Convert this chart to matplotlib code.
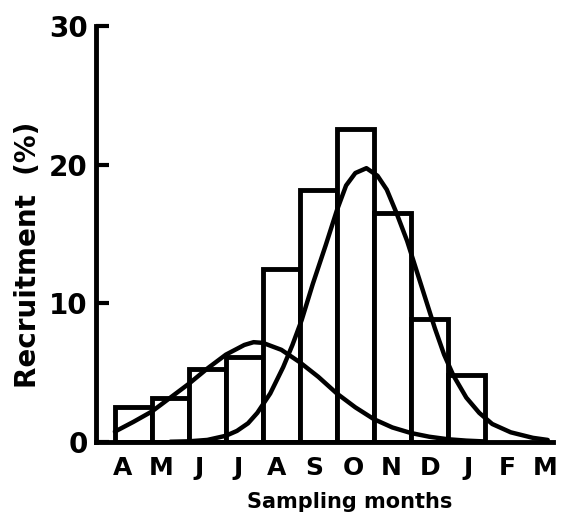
import matplotlib

matplotlib.use("Agg")

import matplotlib.pyplot as plt
import numpy as np

# monthly recruitment (%) per sampling month, April .. January
month_labels = ["A", "M", "J", "J", "A", "S", "O", "N", "D", "J", "F", "M"]
recruitment = [2.5, 3.2, 5.3, 6.1, 12.5, 18.2, 22.6, 16.5, 8.9, 4.8]

# first (small) cohort curve
cohort1_x = [0.0, 0.5, 1.0, 1.5, 2.0, 2.5, 3.0, 3.5, 3.75, 4.0, 4.5, 5.0, 5.5,
             6.0, 6.5, 7.0, 7.5, 8.0, 8.5, 9.0, 9.5, 10.0]
cohort1_y = [0.75, 1.45, 2.2, 3.2, 4.2, 5.3, 6.3, 7.0, 7.2, 7.15, 6.65, 5.75, 4.7,
             3.5, 2.5, 1.65, 1.05, 0.65, 0.38, 0.2, 0.1, 0.04]

# second (main) cohort curve
cohort2_x = [1.5, 2.0, 2.5, 3.0, 3.3, 3.6, 3.85, 4.2, 4.55, 4.8, 5.05, 5.35, 5.7,
             6.0, 6.25, 6.5, 6.8, 7.1, 7.35, 7.6, 7.9, 8.15, 8.4, 8.65, 8.9,
             9.15, 9.5, 9.85, 10.2, 10.7, 11.3, 11.7]
cohort2_y = [0.02, 0.05, 0.15, 0.45, 0.8, 1.35, 2.1, 3.5, 5.4, 7.0, 8.8, 11.4, 14.2,
             16.7, 18.5, 19.4, 19.75, 19.2, 18.2, 16.6, 14.5, 12.4, 10.3, 8.2, 6.3,
             4.8, 3.2, 2.1, 1.3, 0.7, 0.3, 0.15]

plt.rcParams["font.family"] = ["DejaVu Sans"]
plt.rcParams["font.weight"] = "bold"

fig = plt.figure(figsize=(5.62, 5.18), dpi=100)
ax = fig.add_axes([0.1708, 0.1467, 0.813, 0.803])

x = np.arange(len(recruitment))
ax.bar(x, recruitment, width=1.0, align="edge", facecolor="white",
       edgecolor="black", linewidth=3.5, zorder=2)

ax.plot(cohort1_x, cohort1_y, color="black", linewidth=3.2, zorder=3,
        solid_capstyle="round", solid_joinstyle="round")
ax.plot(cohort2_x, cohort2_y, color="black", linewidth=3.2, zorder=3,
        solid_capstyle="round", solid_joinstyle="round")

ax.set_xlim(-0.51, 11.84)
ax.set_ylim(0, 30)

for side in ["top", "right"]:
    ax.spines[side].set_visible(False)
for side in ["left", "bottom"]:
    ax.spines[side].set_linewidth(3.5)

ax.set_yticks([0, 10, 20, 30])
ax.tick_params(axis="y", direction="in", length=9, width=3, pad=6, labelsize=20)

ticks = np.arange(len(month_labels)) * 1.04 + 0.2
ax.set_xticks(ticks)
ax.set_xticklabels(month_labels)
ax.tick_params(axis="x", length=0, pad=10, labelsize=18)

fig.text(28 / 562, 1 - 255 / 518, "Recruitment  (%)", rotation=90,
         ha="center", va="center", fontsize=20, fontweight="bold")
fig.text(350 / 562, 1 - 502 / 518, "Sampling months", ha="center",
         va="center", fontsize=15, fontweight="bold")

fig.savefig("out.png", dpi=100)
